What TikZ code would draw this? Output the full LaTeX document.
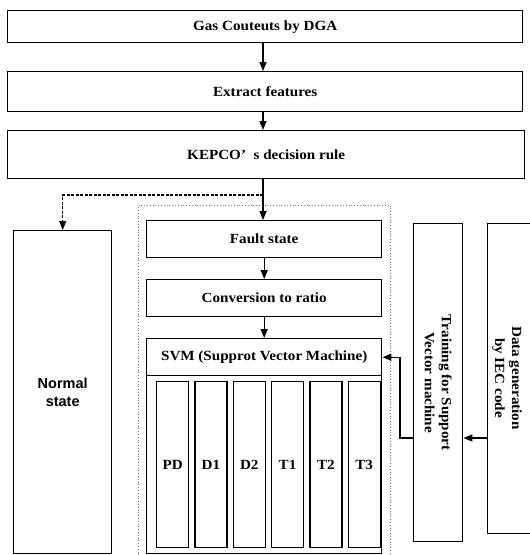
\documentclass[tikz,border=0pt]{standalone}
\usepackage{fontspec}
\setmainfont{Liberation Serif}[FakeStretch=1.08]
\newfontfamily\arialfont{Liberation Sans}
\usetikzlibrary{arrows.meta}
\usetikzlibrary{positioning}

\begin{document}
\begin{tikzpicture}[
		x=1pt, y=-1pt,
		>={Triangle[length=9pt,width=7pt]},
		line width=1.4pt,
		box node/.style={
			draw,
			anchor=north west,
			inner sep=0pt,
			font=\fontsize{14}{17}\selectfont\bfseries
		},
		col node/.style={
			box node,
			minimum width=32pt,
			minimum height=166pt,
			line width=1.3pt
		},
		rot text/.style={rotate=-90, align=center, font=\fontsize{14}{17}\selectfont\bfseries},
		frame node/.style={draw=black!55, dotted, line width=0.8pt, anchor=north west, inner sep=0pt}
		]
		\useasboundingbox (0,0) rectangle (530,555);
		\clip (0,0) rectangle (530,555);
		
		\node[box node, minimum width=515pt, minimum height=32pt] (gas) at (7,10) {Gas Couteuts by DGA};
		\node[box node, minimum width=515pt, minimum height=40pt] (feat) at (7,71) {Extract features};
		\node[box node, minimum width=517pt, minimum height=48pt] (kepco) at (7,130) {KEPCO’\ \ s decision rule};
		
		\node[frame node, minimum width=252pt, minimum height=351pt] (frame) at (138,205) {};
		\node[box node, minimum width=235pt, minimum height=37pt] (fault) at (146,220) {Fault state};
		\node[box node, minimum width=235pt, minimum height=37pt] (conv) at (146,279) {Conversion to ratio};
		\node[box node, minimum width=235pt, minimum height=215pt] (svmbox) at (146,338) {};
		\node[box node, minimum width=235pt, minimum height=37pt] (svmhead) at (146,338) {SVM (Supprot Vector Machine)};
		
		\node[col node] (pd) at (156,381) {PD};
		\node[col node, right=5pt of pd] (d1) {D1};
		\node[col node, right=5pt of d1] (d2) {D2};
		\node[col node, right=5pt of d2] (t1) {T1};
		\node[col node, right=5pt of t1] (t2) {T2};
		\node[col node, right=5pt of t2] (t3) {T3};
		
		\node[box node, minimum width=98pt, minimum height=323pt, align=center,
			font=\arialfont\fontsize{14.5}{18}\selectfont\bfseries] (normal) at (13,230) {Normal\\state};
		
		\node[box node, minimum width=49pt, minimum height=318pt] (train) at (413,223) {};
		\node[rot text] (traintext) at (train.center) {Training for Support\\Vector machine};
		\node[box node, minimum width=49pt, minimum height=310pt] (dgen) at (487,223) {};
		\node[rot text] (dgentext) at (507,378) {Data generation\\by IEC code};
		
		\coordinate (axis) at (263,0);
		\coordinate (split) at (263,195);
		\coordinate (feed) at (400,438);
		
		\path[->]
		(gas.south -| axis) edge (feat.north -| axis)
		(feat.south -| axis) edge (kepco.north -| axis)
		(kepco.south -| axis) edge (fault.north -| axis)
		(fault) edge (conv)
		(conv) edge (svmhead);
		\draw[->, dash pattern=on 3pt off 1.5pt, line width=1.2pt] (split) -| (normal.north);
		\draw[->] (dgen.west |- feed) -- (train.east |- feed);
		\draw[->] (train.west |- feed) -- (feed) |- (svmhead.east);
	\end{tikzpicture}
\end{document}
